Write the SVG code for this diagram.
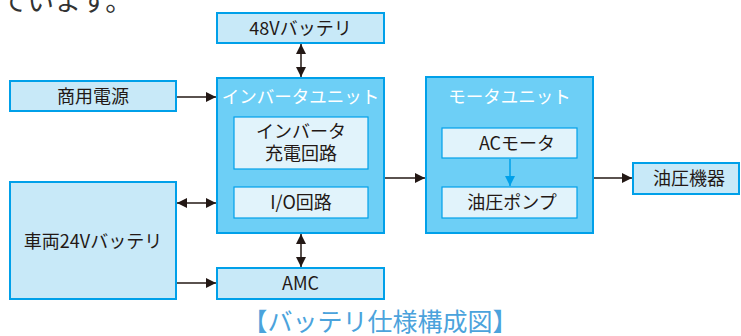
<svg xmlns="http://www.w3.org/2000/svg" width="741" height="336" viewBox="0 0 741 336">
<defs>
<style>
text{font-family:"Noto Sans CJK JP","Liberation Sans",sans-serif;}
.box{fill:#c8e9f8;stroke:#00a0e9;stroke-width:2;}
.unit{fill:#6dcff6;stroke:#00a0e9;stroke-width:2;}
.inner{fill:#e1f3fb;stroke:#00a0e9;stroke-width:1.2;}
.lbl{font-size:18px;fill:#231815;text-anchor:middle;}
.ulbl{font-size:17.5px;fill:#ffffff;text-anchor:middle;}
.ln{stroke:#231815;stroke-width:1.5;fill:none;}
</style>
<marker id="ah" viewBox="0 0 10 10" refX="10" refY="5" markerWidth="10" markerHeight="10" markerUnits="userSpaceOnUse" orient="auto-start-reverse">
<path d="M0,0 L10,5 L0,10 Z" fill="#231815"/>
</marker>
<marker id="ahb" viewBox="0 0 10 10" refX="10" refY="5" markerWidth="10" markerHeight="10" markerUnits="userSpaceOnUse" orient="auto">
<path d="M0,0 L10,5 L0,10 Z" fill="#00a0e9"/>
</marker>
</defs>
<rect width="741" height="336" fill="#ffffff"/>
<text x="0" y="11" style="font-size:27px;fill:#333333;">ています。</text>

<g id="battery48">
<rect class="box" x="217" y="13" width="167" height="30"/>
<text class="lbl" x="300.5" y="34.5">48Vバッテリ</text>
</g>
<g id="commercial">
<rect class="box" x="10" y="81" width="166" height="30"/>
<text class="lbl" x="93" y="102.5">商用電源</text>
</g>
<g id="inverter-unit">
<rect class="unit" x="217" y="78" width="167" height="155"/>
<text class="ulbl" x="300.5" y="103">インバータユニット</text>
</g>
<g id="inverter-charge">
<rect class="inner" x="234" y="117" width="134" height="52"/>
<text class="lbl" x="301" y="138">インバータ</text>
<text class="lbl" x="301" y="159.5">充電回路</text>
</g>
<g id="io">
<rect class="inner" x="234" y="187" width="134" height="31"/>
<text class="lbl" x="301" y="209">I/O回路</text>
</g>
<g id="motor-unit">
<rect class="unit" x="426" y="77" width="167" height="156"/>
<text class="ulbl" x="509.5" y="103">モータユニット</text>
</g>
<g id="ac-motor">
<rect class="inner" x="442" y="128" width="135" height="30"/>
<text class="lbl" x="517" y="149.5">ACモータ</text>
</g>
<g id="pump">
<rect class="inner" x="442" y="187" width="135" height="31"/>
<text class="lbl" x="512" y="209">油圧ポンプ</text>
</g>
<g id="hydraulic">
<rect class="box" x="633" y="163" width="106" height="31"/>
<text class="lbl" x="689" y="185">油圧機器</text>
</g>
<g id="battery24">
<rect class="box" x="10" y="182" width="166" height="117"/>
<text class="lbl" x="93" y="248">車両24Vバッテリ</text>
</g>
<g id="amc">
<rect class="box" x="217" y="268" width="167" height="31"/>
<text class="lbl" x="300.5" y="290">AMC</text>
</g>

<g id="connectors">
<line class="ln" x1="301" y1="44" x2="301" y2="77" marker-start="url(#ah)" marker-end="url(#ah)"/>
<line class="ln" x1="177" y1="97" x2="216" y2="97" marker-end="url(#ah)"/>
<line class="ln" x1="177" y1="203" x2="216" y2="203" marker-start="url(#ah)" marker-end="url(#ah)"/>
<line class="ln" x1="177" y1="283" x2="216" y2="283" marker-end="url(#ah)"/>
<line class="ln" x1="301" y1="234" x2="301" y2="267" marker-start="url(#ah)" marker-end="url(#ah)"/>
<line class="ln" x1="385" y1="178" x2="425" y2="178" marker-end="url(#ah)"/>
<line class="ln" x1="594" y1="178" x2="632" y2="178" marker-end="url(#ah)"/>
<line x1="510" y1="159" x2="510" y2="186" stroke="#00a0e9" stroke-width="1.5" marker-end="url(#ahb)"/>
</g>

<text x="380" y="331" style="font-size:25px;fill:#4ba3dc;text-anchor:middle;">【バッテリ仕様構成図】</text>
</svg>
